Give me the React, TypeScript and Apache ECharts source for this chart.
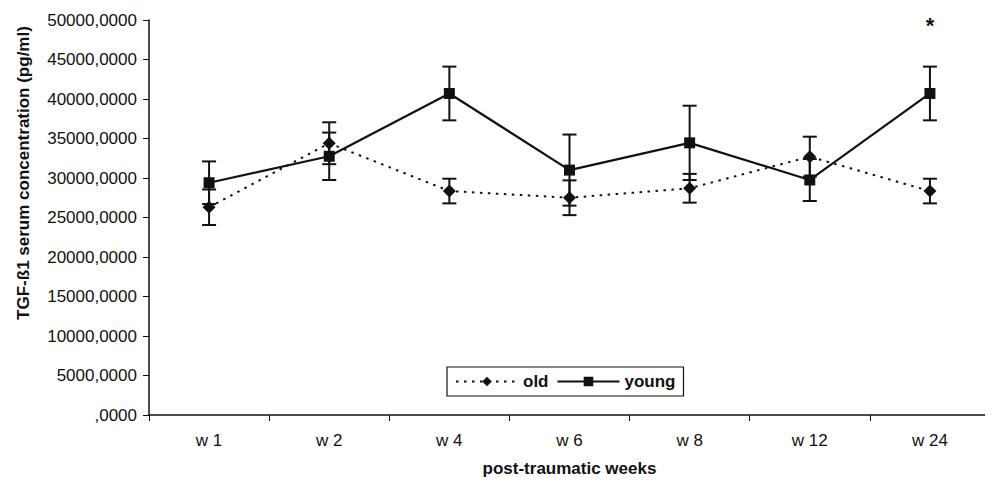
import React, { useEffect, useRef } from "react";
import * as echarts from "echarts";

const categories = ["w 1", "w 2", "w 4", "w 6", "w 8", "w 12", "w 24"];
const oldMean = [26300, 34400, 28350, 27500, 28700, 32700, 28350];
const oldErr = [2250, 2650, 1560, 2200, 1820, 2530, 1560];
const youngMean = [29400, 32750, 40700, 31000, 34450, 29750, 40700];
const youngErr = [2700, 3000, 3400, 4500, 4700, 2660, 3400];
const yTicks = { min: 0, max: 50000, interval: 5000 };
const starCategory = "w 24";
const starValue = 49300;

const FONT = "'Liberation Sans', Arial, sans-serif";
const INK = "#111";

function errorData(mean: number[], err: number[]) {
  return mean.map((m, i) => [i, m - err[i], m + err[i]]);
}

function errorRender(params: any, api: any) {
  const i = api.value(0);
  const lo = api.coord([i, api.value(1)]);
  const hi = api.coord([i, api.value(2)]);
  const cap = 7;
  const style = { stroke: INK, lineWidth: 2 };
  return {
    type: "group",
    children: [
      { type: "line", shape: { x1: lo[0], y1: lo[1], x2: hi[0], y2: hi[1] }, style },
      { type: "line", shape: { x1: lo[0] - cap, y1: lo[1], x2: lo[0] + cap, y2: lo[1] }, style },
      { type: "line", shape: { x1: hi[0] - cap, y1: hi[1], x2: hi[0] + cap, y2: hi[1] }, style },
    ],
  };
}

export default function App() {
  const ref = useRef<HTMLDivElement>(null);
  useEffect(() => {
    if (!ref.current) return;
    const chart = echarts.init(ref.current, null, { renderer: "svg" });
    chart.setOption({
      animation: false,
      textStyle: { fontFamily: FONT },
      grid: { left: 149, right: 3, top: 20, bottom: 71, containLabel: false, outerBoundsMode: "none" },
      legend: {
        left: 447,
        top: 367,
        orient: "horizontal",
        itemWidth: 62,
        itemHeight: 12,
        itemGap: 8,
        padding: [6, 8, 6, 8],
        borderColor: INK,
        borderWidth: 1.2,
        backgroundColor: "#fff",
        textStyle: { fontFamily: FONT, fontSize: 17, fontWeight: "bold", color: INK },
        data: ["old", "young"],
      },
      xAxis: {
        type: "category",
        data: categories,
        boundaryGap: true,
        axisLine: { lineStyle: { color: INK, width: 1.5 } },
        axisTick: { show: true, length: 6, lineStyle: { color: INK } },
        axisLabel: { fontSize: 17, color: INK, margin: 17 },
        name: "post-traumatic weeks",
        nameLocation: "middle",
        nameGap: 45,
        nameTextStyle: { fontSize: 17, fontWeight: "bold", color: INK },
      },
      yAxis: {
        type: "value",
        min: yTicks.min,
        max: yTicks.max,
        interval: yTicks.interval,
        splitLine: { show: false },
        axisLine: { show: true, lineStyle: { color: INK, width: 1.5 } },
        axisTick: { show: true, length: 6, lineStyle: { color: INK } },
        axisLabel: {
          fontSize: 17,
          color: INK,
          margin: 12,
          formatter: (v: number) => (v === 0 ? ",0000" : v + ",0000"),
        },
      },
      graphic: [
        {
          type: "text",
          x: 23,
          y: 173,
          rotation: Math.PI / 2,
          style: {
            text: "TGF-ß1 serum concentration (pg/ml)",
            fontFamily: FONT,
            fontSize: 17,
            fontWeight: "bold",
            fill: INK,
            align: "center",
            verticalAlign: "middle",
          },
        },
      ],
      series: [
        {
          name: "old",
          type: "line",
          data: oldMean,
          symbol: "diamond",
          symbolSize: 13,
          itemStyle: { color: INK },
          lineStyle: { color: INK, width: 2, type: [2.5, 5.5] },
          z: 3,
        },
        {
          name: "young",
          type: "line",
          data: youngMean,
          symbol: "rect",
          symbolSize: 11,
          itemStyle: { color: INK },
          lineStyle: { color: INK, width: 2.2, type: "solid" },
          z: 4,
          markPoint: {
            symbol: "circle",
            symbolSize: 1,
            itemStyle: { color: "rgba(0,0,0,0)" },
            label: {
              show: true,
              position: "inside",
              formatter: "*",
              fontSize: 22,
              fontWeight: "bold",
              color: INK,
            },
            data: [{ coord: [starCategory, starValue] }],
          },
        },
        {
          name: "oldErr",
          type: "custom",
          data: errorData(oldMean, oldErr),
          renderItem: errorRender,
          encode: { x: 0, y: [1, 2] },
          z: 2,
        },
        {
          name: "youngErr",
          type: "custom",
          data: errorData(youngMean, youngErr),
          renderItem: errorRender,
          encode: { x: 0, y: [1, 2] },
          z: 2,
        },
      ],
    });
    return () => chart.dispose();
  }, []);
  return <div ref={ref} style={{ width: 993, height: 486, margin: -8 }} />;
}
